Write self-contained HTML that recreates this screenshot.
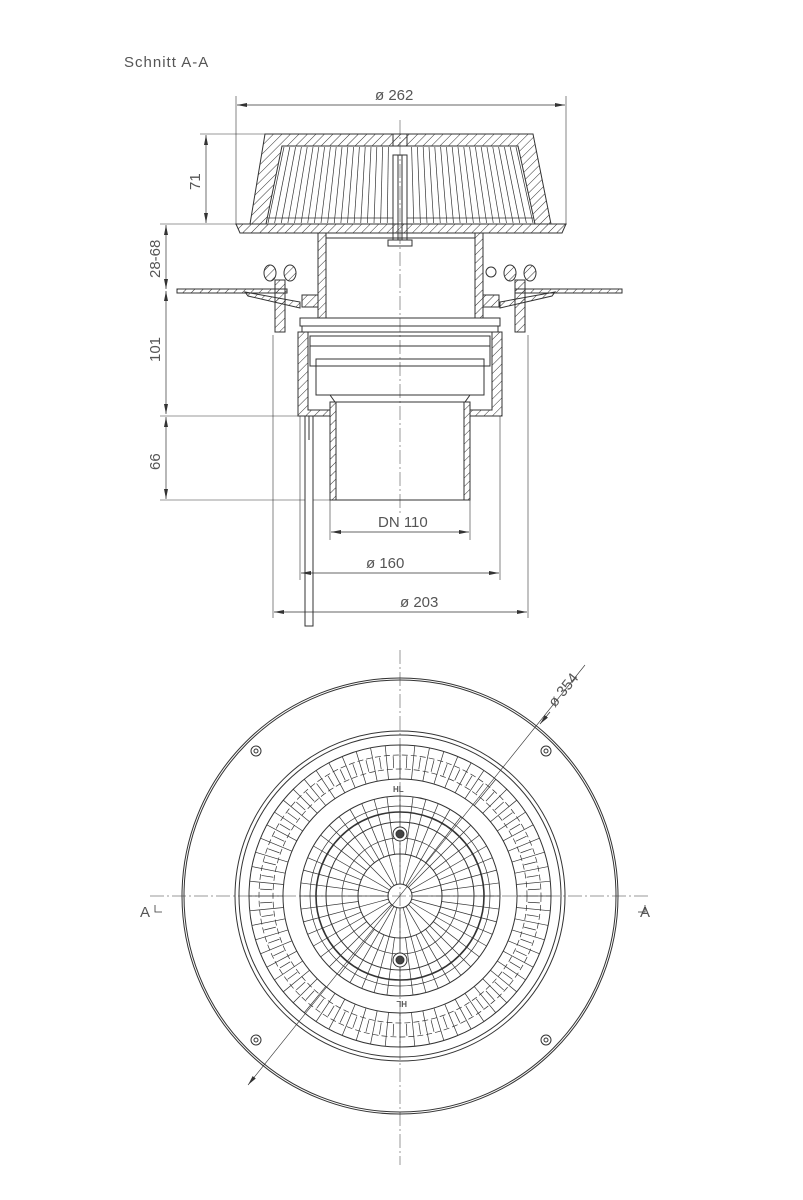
<!DOCTYPE html>
<html><head><meta charset="utf-8"><style>
html,body{margin:0;padding:0;background:#fff;}
svg{display:block}
text{font-family:"Liberation Sans",sans-serif;fill:#555;}
</style></head><body>
<svg width="803" height="1200" viewBox="0 0 803 1200" xmlns="http://www.w3.org/2000/svg">
<defs>
<pattern id="h" width="6" height="6" patternUnits="userSpaceOnUse" patternTransform="rotate(45)">
<line x1="0" y1="0" x2="0" y2="6" stroke="#333" stroke-width="1"/></pattern>
<marker id="a" markerWidth="10" markerHeight="6" refX="10" refY="3" orient="auto-start-reverse" markerUnits="userSpaceOnUse">
<path d="M0,1 L10,3 L0,5z" fill="#333"/></marker>
</defs>
<g stroke="#333" fill="none" stroke-width="1">
<text x="124" y="67" font-size="15" stroke="none" letter-spacing="1">Schnitt  A-A</text>
<line x1="236" y1="96" x2="236" y2="225" stroke-width=".6"/>
<line x1="566" y1="96" x2="566" y2="225" stroke-width=".6"/>
<line x1="237" y1="105" x2="565" y2="105" stroke-width=".7" marker-start="url(#a)" marker-end="url(#a)"/>
<text x="375" y="100" font-size="15" stroke="none">ø 262</text>
<line x1="200" y1="134" x2="270" y2="134" stroke-width=".6"/>
<line x1="160" y1="224" x2="250" y2="224" stroke-width=".6"/>
<line x1="206" y1="135" x2="206" y2="223" stroke-width=".7" marker-start="url(#a)" marker-end="url(#a)"/>
<text transform="translate(200,190) rotate(-90)" font-size="15" stroke="none">71</text>
<line x1="166" y1="225" x2="166" y2="289" stroke-width=".7" marker-start="url(#a)" marker-end="url(#a)"/>
<text transform="translate(160,278) rotate(-90)" font-size="15" stroke="none">28-68</text>
<line x1="166" y1="291" x2="166" y2="414" stroke-width=".7" marker-start="url(#a)" marker-end="url(#a)"/>
<text transform="translate(160,362) rotate(-90)" font-size="15" stroke="none">101</text>
<line x1="160" y1="416" x2="305" y2="416" stroke-width=".6"/>
<line x1="166" y1="417" x2="166" y2="499" stroke-width=".7" marker-start="url(#a)" marker-end="url(#a)"/>
<text transform="translate(160,470) rotate(-90)" font-size="15" stroke="none">66</text>
<line x1="160" y1="500" x2="330" y2="500" stroke-width=".6"/>
<path d="M265,134 L533,134 L551,224 L250,224 Z" fill="url(#h)"/>
<path d="M282,146 L518,146 L535,224 L266,224 Z" fill="#fff"/>
<g id="gr" stroke-width=".7"></g>
<rect x="393" y="134" width="14" height="12" fill="url(#h)"/>
<rect x="393" y="155" width="14" height="88" fill="#fff"/>
<line x1="398" y1="155" x2="398" y2="243"/><line x1="402" y1="155" x2="402" y2="243"/>
<rect x="388" y="240" width="24" height="6" fill="#fff"/>
<path d="M236,224 L566,224 L562,233 L240,233 Z" fill="url(#h)"/>
<rect x="318" y="233" width="8" height="85" fill="url(#h)"/>
<rect x="475" y="233" width="8" height="85" fill="url(#h)"/>
<line x1="326" y1="238" x2="475" y2="238"/>
<rect x="177" y="289" width="110" height="4" fill="url(#h)"/>
<rect x="515" y="289" width="107" height="4" fill="url(#h)"/>
<path d="M245,292 L300,302 L300,308 L248,296Z" fill="url(#h)"/>
<path d="M555,292 L500,302 L500,308 L552,296Z" fill="url(#h)"/>
<rect x="275" y="280" width="10" height="52" fill="url(#h)"/>
<rect x="515" y="280" width="10" height="52" fill="url(#h)"/>
<ellipse cx="270" cy="273" rx="6" ry="8" fill="url(#h)"/><ellipse cx="290" cy="273" rx="6" ry="8" fill="url(#h)"/>
<ellipse cx="510" cy="273" rx="6" ry="8" fill="url(#h)"/><ellipse cx="530" cy="273" rx="6" ry="8" fill="url(#h)"/>
<rect x="302" y="295" width="16" height="12" fill="url(#h)"/><rect x="483" y="295" width="16" height="12" fill="url(#h)"/>
<circle cx="491" cy="272" r="5"/>
<rect x="300" y="318" width="200" height="8"/>
<rect x="302" y="326" width="196" height="6"/>
<path d="M298,332 L308,332 L308,410 L330,410 L330,416 L298,416 Z" fill="url(#h)"/>
<path d="M502,332 L492,332 L492,410 L470,410 L470,416 L502,416 Z" fill="url(#h)"/>
<rect x="310" y="336" width="180" height="30"/>
<rect x="316" y="359" width="168" height="36"/>
<line x1="310" y1="346" x2="490" y2="346"/>
<path d="M316,395 L330,395 L335,402 L465,402 L470,395 L484,395" />
<rect x="330" y="402" width="6" height="98" fill="url(#h)"/>
<rect x="464" y="402" width="6" height="98" fill="url(#h)"/>
<line x1="330" y1="500" x2="470" y2="500"/>
<rect x="305" y="416" width="8" height="210" fill="#fff"/>
<line x1="309" y1="416" x2="309" y2="440"/>
<line x1="400" y1="120" x2="400" y2="515" stroke-width=".5" stroke-dasharray="14,3,2,3"/>
<line x1="330" y1="500" x2="330" y2="540" stroke-width=".6"/>
<line x1="470" y1="500" x2="470" y2="540" stroke-width=".6"/>
<line x1="331" y1="532" x2="469" y2="532" stroke-width=".7" marker-start="url(#a)" marker-end="url(#a)"/>
<text x="378" y="527" font-size="15" stroke="none">DN 110</text>
<line x1="300" y1="416" x2="300" y2="580" stroke-width=".6"/>
<line x1="500" y1="416" x2="500" y2="580" stroke-width=".6"/>
<line x1="301" y1="573" x2="499" y2="573" stroke-width=".7" marker-start="url(#a)" marker-end="url(#a)"/>
<text x="366" y="568" font-size="15" stroke="none">ø 160</text>
<line x1="273" y1="335" x2="273" y2="618" stroke-width=".6"/>
<line x1="528" y1="335" x2="528" y2="618" stroke-width=".6"/>
<line x1="274" y1="612" x2="527" y2="612" stroke-width=".7" marker-start="url(#a)" marker-end="url(#a)"/>
<text x="400" y="607" font-size="15" stroke="none">ø 203</text>

<line x1="400" y1="650" x2="400" y2="1165" stroke-width=".5" stroke-dasharray="14,3,2,3"/>
<line x1="150" y1="896" x2="650" y2="896" stroke-width=".5" stroke-dasharray="14,3,2,3"/>
<text x="140" y="917" font-size="15" stroke="none">A</text>
<text x="640" y="917" font-size="15" stroke="none">A</text>
<path d="M155,905 L155,912 L162,912" stroke-width=".8"/><path d="M645,905 L645,912 L638,912" stroke-width=".8"/>
<circle cx="400" cy="896" r="218"/><circle cx="400" cy="896" r="216"/>
<circle cx="400" cy="896" r="165"/><circle cx="400" cy="896" r="161"/>
<circle cx="400" cy="896" r="151"/><circle cx="400" cy="896" r="117"/>
<circle cx="400" cy="896" r="100"/><circle cx="400" cy="896" r="84" stroke-width="1.6"/>
<circle cx="400" cy="896" r="74"/><circle cx="400" cy="896" r="42"/><circle cx="400" cy="896" r="12"/>
<g id="rad" stroke-width=".7"></g>
<circle cx="256" cy="751" r="5"/><circle cx="256" cy="751" r="2"/>
<circle cx="546" cy="751" r="5"/><circle cx="546" cy="751" r="2"/>
<circle cx="256" cy="1040" r="5"/><circle cx="256" cy="1040" r="2"/>
<circle cx="546" cy="1040" r="5"/><circle cx="546" cy="1040" r="2"/>
<circle cx="400" cy="834" r="7" fill="#fff"/><circle cx="400" cy="834" r="4" fill="#444"/>
<circle cx="400" cy="960" r="7" fill="#fff"/><circle cx="400" cy="960" r="4" fill="#444"/>
<text x="393" y="792" font-size="8" font-weight="bold" stroke="none">HL</text>
<text transform="translate(407,1001) rotate(180)" font-size="8" font-weight="bold" stroke="none">HL</text>
<line x1="248" y1="1085" x2="585" y2="665" stroke-width=".6" marker-start="url(#a)"/>
<line x1="550" y1="712" x2="540" y2="724" stroke-width=".7" marker-end="url(#a)"/>
<text transform="translate(555,708) rotate(-51)" font-size="15" stroke="none">ø 354</text>
</g>
<script>
(function(){
var ns="http://www.w3.org/2000/svg";
function L(g,x1,y1,x2,y2){var l=document.createElementNS(ns,"line");l.setAttribute("x1",x1);l.setAttribute("y1",y1);l.setAttribute("x2",x2);l.setAttribute("y2",y2);g.appendChild(l);}
var gr=document.getElementById("gr");
for(var i=0;i<=40;i++){var t=i/40;var xt=284+t*232,xb=268+t*265;if(Math.abs(xt-400)<9)continue;L(gr,xt,147,xb,223);}
L(gr,268,218,533,218);
var r=document.getElementById("rad");var cx=400,cy=896;
for(var i=0;i<64;i++){var a=i*Math.PI*2/64;var c=Math.cos(a),s=Math.sin(a);L(r,cx+c*117,cy+s*117,cx+c*151,cy+s*151);}
for(var i=0;i<64;i++){var a=(i+.5)*Math.PI*2/64;var c=Math.cos(a),s=Math.sin(a);L(r,cx+c*128,cy+s*128,cx+c*140,cy+s*140);}
[127,141].forEach(function(rr){var ci=document.createElementNS(ns,"circle");ci.setAttribute("cx",cx);ci.setAttribute("cy",cy);ci.setAttribute("r",rr);ci.setAttribute("stroke-dasharray","6,3");r.appendChild(ci);});
for(var i=0;i<24;i++){var a=i*Math.PI*2/24;var c=Math.cos(a),s=Math.sin(a);L(r,cx+c*12,cy+s*12,cx+c*100,cy+s*100);}
for(var i=0;i<24;i++){var a=(i+.5)*Math.PI*2/24;var c=Math.cos(a),s=Math.sin(a);L(r,cx+c*42,cy+s*42,cx+c*100,cy+s*100);}
[58,90].forEach(function(rr){var ci=document.createElementNS(ns,"circle");ci.setAttribute("cx",cx);ci.setAttribute("cy",cy);ci.setAttribute("r",rr);r.appendChild(ci);});
})();
</script>
</svg>
</body></html>
